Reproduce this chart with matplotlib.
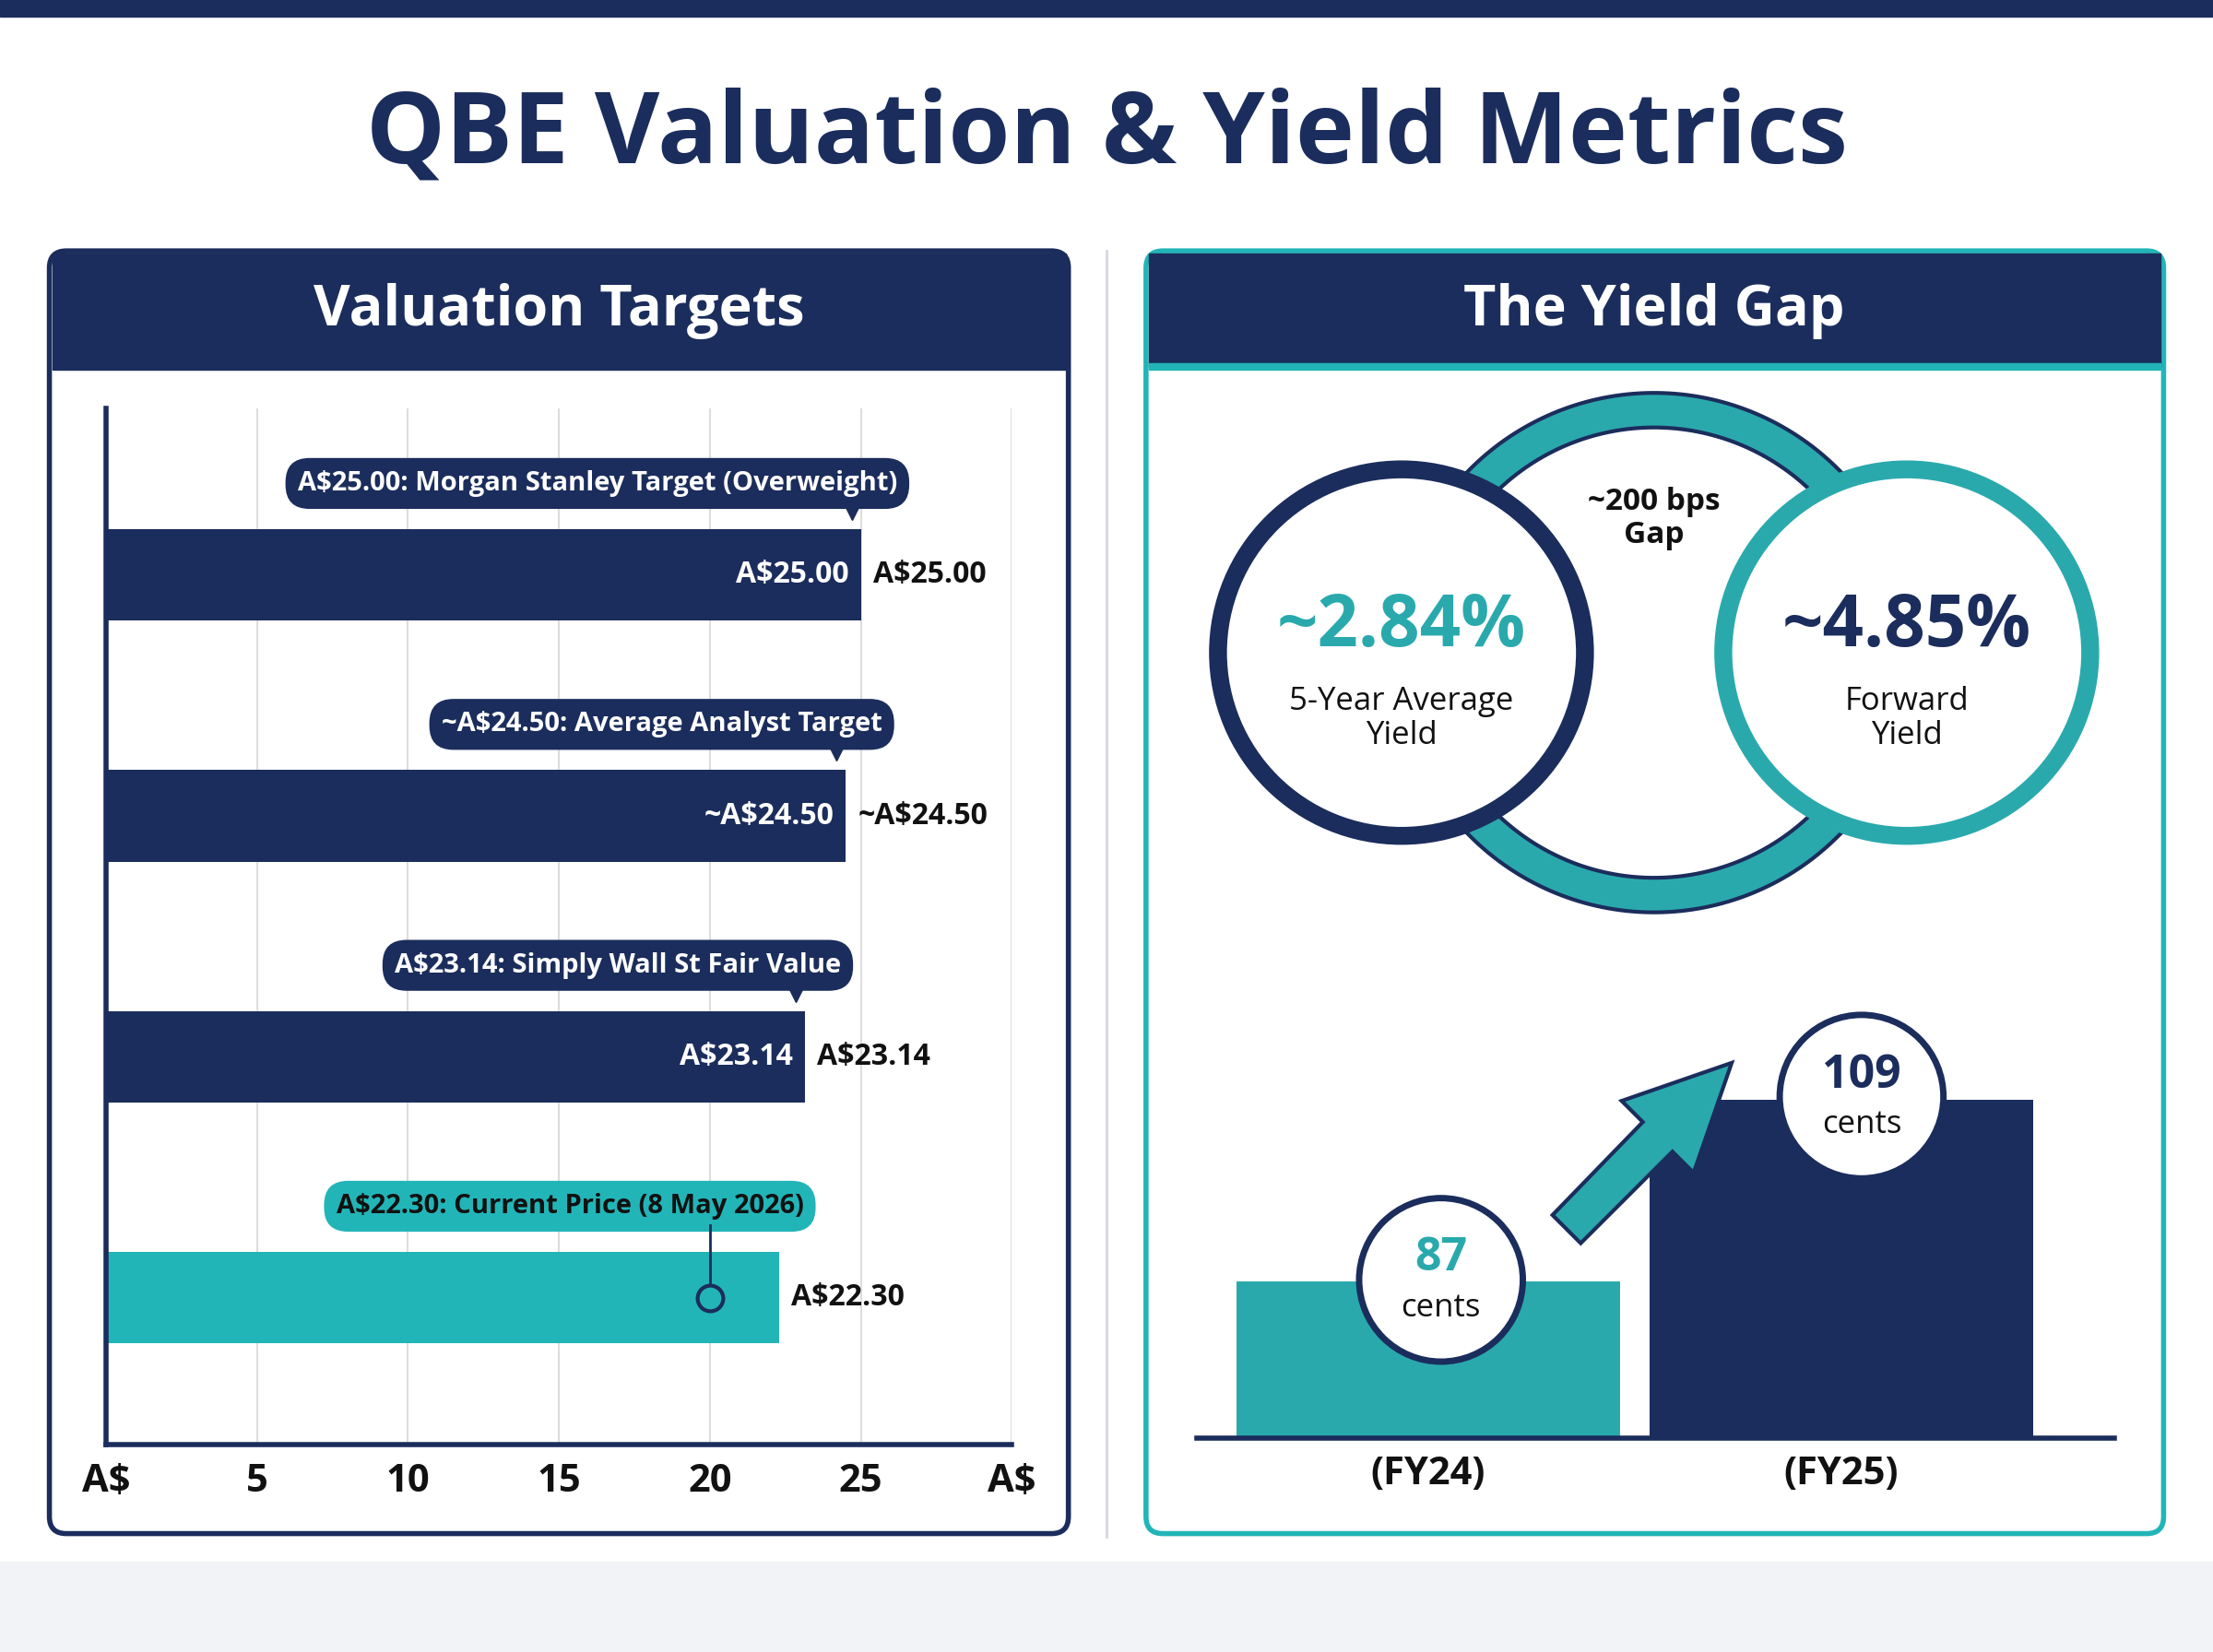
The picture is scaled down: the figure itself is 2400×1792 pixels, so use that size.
import numpy as np
import matplotlib
matplotlib.use("Agg")
from matplotlib import pyplot as plt
from matplotlib.patches import FancyBboxPatch, Circle, Polygon, Rectangle

plt.rcParams['font.family'] = ['Open Sans', 'DejaVu Sans']

NAVY = '#1b2d5c'
TEAL = '#22b5b8'
TEAL2 = '#2aa9ad'

# data
targets = ['A$25.00: Morgan Stanley Target (Overweight)', '~A$24.50: Average Analyst Target',
           'A$23.14: Simply Wall St Fair Value', 'A$22.30: Current Price (8 May 2026)']
values = [25.00, 24.50, 23.14, 22.30]
value_labels = ['A$25.00', '~A$24.50', 'A$23.14', 'A$22.30']
xticks = [0, 5, 10, 15, 20, 25, 30]
xtick_labels = ['A$', '5', '10', '15', '20', '25', 'A$']
dps_years = ['(FY24)', '(FY25)']
dps_cents = [87, 109]
yield_avg = 2.84
yield_fwd = 4.85

W, H = 1568, 1172
fig = plt.figure(figsize=(24, 17.92), dpi=100)

def axrect(l, t, r, b):
    return [l / W, 1 - b / H, (r - l) / W, (b - t) / H]

bg = fig.add_axes([0, 0, 1, 1], zorder=0)
bg.set_xlim(0, W); bg.set_ylim(H, 0); bg.axis('off')
bg.add_patch(Rectangle((0, 0), W, 12, color=NAVY))
bg.add_patch(Rectangle((0, 1108), W, 64, color='#f1f3f6'))
bg.plot([784, 784], [178, 1090], color='#d5d9df', lw=2)
bg.text(784, 97, 'QBE Valuation & Yield Metrics', ha='center', va='center',
        fontsize=78, fontweight='bold', color=NAVY)

# panels
bg.add_patch(FancyBboxPatch((35, 178), 722, 910, boxstyle='round,pad=0,rounding_size=12',
                            fc='white', ec=NAVY, lw=4))
bg.add_patch(Rectangle((37, 180), 718, 82, color=NAVY))
bg.text(396, 221, 'Valuation Targets', ha='center', va='center', fontsize=44,
        fontweight='bold', color='white')
bg.add_patch(FancyBboxPatch((812, 178), 721, 910, boxstyle='round,pad=0,rounding_size=12',
                            fc='white', ec=TEAL, lw=4))
bg.add_patch(Rectangle((814, 180), 717, 80, color=NAVY))
bg.add_patch(Rectangle((814, 258), 717, 4, color=TEAL))
bg.text(1172, 221, 'The Yield Gap', ha='center', va='center', fontsize=44,
        fontweight='bold', color='white')

# left bar chart
ax = fig.add_axes(axrect(75, 290, 717, 1025), zorder=2)
ax.patch.set_alpha(0)
y = np.arange(len(values))
colors = [NAVY, NAVY, NAVY, TEAL]
ax.barh(y, values, height=0.38, color=colors, zorder=2)
ax.set_xlim(0, 30)
ax.set_ylim(3.61, -0.69)
ax.set_xticks(xticks)
ax.set_xticklabels(xtick_labels, fontsize=30, fontweight='bold', color='#111111')
ax.set_yticks([])
ax.tick_params(axis='x', length=0, pad=14)
ax.grid(axis='x', color='#dddddd', lw=1.5, zorder=0)
for s in ['top', 'right']:
    ax.spines[s].set_visible(False)
ax.spines['left'].set_linewidth(4); ax.spines['left'].set_color(NAVY)
ax.spines['bottom'].set_linewidth(4); ax.spines['bottom'].set_color(NAVY)
for i, (v, lab, t) in enumerate(zip(values, value_labels, targets)):
    ax.text(v + 0.4, i, lab, ha='left', va='center', fontsize=23, fontweight='bold', color='#111111')
    if i < 3:
        ax.text(v - 0.4, i, lab, ha='right', va='center', fontsize=23, fontweight='bold', color='white')
        ax.text(v + 1.2, i - 0.38, t, ha='right', va='center', fontsize=21, fontweight='bold',
                color='white', bbox=dict(boxstyle='round,pad=0.45,rounding_size=0.9', fc=NAVY, ec='none'))
        ax.plot(v - 0.3, i - 0.26, marker='v', ms=12, color=NAVY, zorder=5)
    else:
        ax.text(v + 0.8, i - 0.38, t, ha='right', va='center', fontsize=21, fontweight='bold',
                color='#111111', bbox=dict(boxstyle='round,pad=0.45,rounding_size=0.9', fc=TEAL, ec='none'))
        ax.plot([20, 20], [i - 0.3, i], color=NAVY, lw=2, zorder=4)
        ax.plot(20, i, marker='o', ms=20, mfc=TEAL, mec=NAVY, mew=3, zorder=5)

# yield gap circles
ov = fig.add_axes([0, 0, 1, 1], zorder=3)
ov.set_xlim(0, W); ov.set_ylim(H, 0); ov.axis('off')
cx, cy, r = 1172, 463, 172

def arc_arrow(t0, t1):
    th = np.radians(np.linspace(t0, t1, 80))
    xs, ys = cx + r * np.cos(th), cy - r * np.sin(th)
    ov.plot(xs, ys, color=NAVY, lw=30, solid_capstyle='butt', zorder=1)
    ov.plot(xs, ys, color=TEAL2, lw=24, solid_capstyle='butt', zorder=1)
    t = np.radians(t1)
    bx, by = cx + r * np.cos(t), cy - r * np.sin(t)
    d = np.array([np.sin(t), np.cos(t)])
    n = np.array([-d[1], d[0]])
    tip = np.array([bx, by]) + d * 60
    ov.add_patch(Polygon([tip, np.array([bx, by]) + n * 34, np.array([bx, by]) - n * 34],
                         fc=TEAL2, ec=NAVY, lw=3, zorder=2))

arc_arrow(142, 38)
arc_arrow(-35, -140)
ov.add_patch(Circle((993, 463), 130, fc='white', ec=NAVY, lw=14, zorder=3))
ov.add_patch(Circle((1351, 463), 130, fc='white', ec=TEAL2, lw=14, zorder=3))
ov.text(993, 445, f'~{yield_avg:.2f}%', ha='center', va='center', fontsize=56, fontweight='bold', color=TEAL2, zorder=4)
ov.text(993, 510, '5-Year Average\nYield', ha='center', va='center', fontsize=25, color='#111111', zorder=4, linespacing=1.1)
ov.text(1351, 445, f'~{yield_fwd:.2f}%', ha='center', va='center', fontsize=56, fontweight='bold', color=NAVY, zorder=4)
ov.text(1351, 510, 'Forward\nYield', ha='center', va='center', fontsize=25, color='#111111', zorder=4, linespacing=1.1)
ov.text(1172, 368, '~200 bps\nGap', ha='center', va='center', fontsize=24, fontweight='bold', color='#111111', zorder=4, linespacing=1.1)

# dividend bars
bx = fig.add_axes(axrect(848, 700, 1498, 1020), zorder=2)
bx.patch.set_alpha(0)
bx.bar([0, 1], dps_cents, width=0.93, color=[TEAL2, NAVY], zorder=2)
bx.set_ylim(68, 68 + (109 - 68) * 320 / 240)
bx.set_xlim(-0.56, 1.66)
bx.set_xticks([0, 1])
bx.set_xticklabels(dps_years, fontsize=30, fontweight='bold', color='#111111')
bx.tick_params(axis='x', length=0, pad=14)
bx.set_yticks([])
for s in ['top', 'right', 'left']:
    bx.spines[s].set_visible(False)
bx.spines['bottom'].set_linewidth(4); bx.spines['bottom'].set_color(NAVY)
ov.add_patch(Circle((1021, 908), 58, fc='white', ec=NAVY, lw=5, zorder=3))
ov.text(1021, 893, f'{dps_cents[0]}', ha='center', va='center', fontsize=36, fontweight='bold', color=TEAL2, zorder=4)
ov.text(1021, 928, 'cents', ha='center', va='center', fontsize=25, color='#111111', zorder=4)
ov.add_patch(Circle((1319, 778), 58, fc='white', ec=NAVY, lw=5, zorder=3))
ov.text(1319, 763, f'{dps_cents[1]}', ha='center', va='center', fontsize=36, fontweight='bold', color=NAVY, zorder=4)
ov.text(1319, 798, 'cents', ha='center', va='center', fontsize=25, color='#111111', zorder=4)
ov.add_patch(Polygon([(1100, 862), (1120, 882), (1185, 817), (1200, 832), (1227, 754),
                      (1149, 781), (1164, 796)], fc=TEAL2, ec=NAVY, lw=3, zorder=3))

fig.savefig('out.png', dpi=100, facecolor='white')
